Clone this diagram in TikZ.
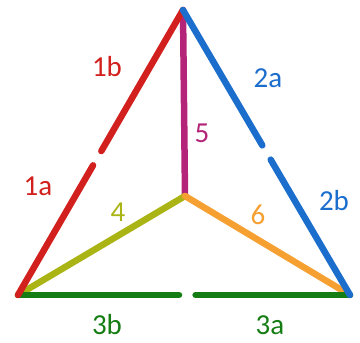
\documentclass[tikz,border=0pt]{standalone}
\usepackage{fontspec}
\setmainfont{Carlito}
\usetikzlibrary{calc}
\definecolor{cred}{RGB}{210,32,30}
\definecolor{cblue}{RGB}{28,110,205}
\definecolor{cmag}{RGB}{180,36,120}
\definecolor{colive}{RGB}{170,180,20}
\definecolor{corange}{RGB}{246,160,50}
\definecolor{cgreen}{RGB}{20,125,20}
\tikzset{
  edge/.style={line width=6.5pt, line cap=round},
  lbl/.style={font=\fontsize{29}{31}\selectfont, inner sep=0pt, anchor=center}
}
\begin{document}
\begin{tikzpicture}[x=1pt,y=-1pt]
\useasboundingbox (0,0) rectangle (360,343);
\coordinate (T) at (183,10);
\coordinate (L) at (18,295);
\coordinate (R) at (350,295);
\coordinate (C) at (185,196);
% inner edges
\draw[edge, cmag] (C) -- (T);
\draw[edge, colive] (C) -- (L);
\draw[edge, corange] (C) -- (R);
% bottom
\draw[edge, cgreen] (L) -- ($(L)!0.485!(R)$);
\draw[edge, cgreen] ($(L)!0.535!(R)$) -- (R);
% left
\draw[edge, cred] (L) -- ($(L)!0.455!(T)$);
\draw[edge, cred] ($(L)!0.505!(T)$) -- (T);
% right
\draw[edge, cblue] (T) -- ($(T)!0.475!(R)$);
\draw[edge, cblue] ($(T)!0.525!(R)$) -- (R);
% labels
\node[lbl, cred] (l1b) at (107,67) {1b};
\node[lbl, cred] (l1a) at (38,186) {1a};
\node[lbl, cblue] (l2a) at (268,78) {2a};
\node[lbl, cblue] (l2b) at (334,201) {2b};
\node[lbl, cgreen] (l3b) at (107,325) {3b};
\node[lbl, cgreen] (l3a) at (270,325) {3a};
\node[lbl, colive] (l4) at (118,212) {4};
\node[lbl, cmag] (l5) at (202,133) {5};
\node[lbl, corange] (l6) at (258,215) {6};
\end{tikzpicture}
\end{document}
